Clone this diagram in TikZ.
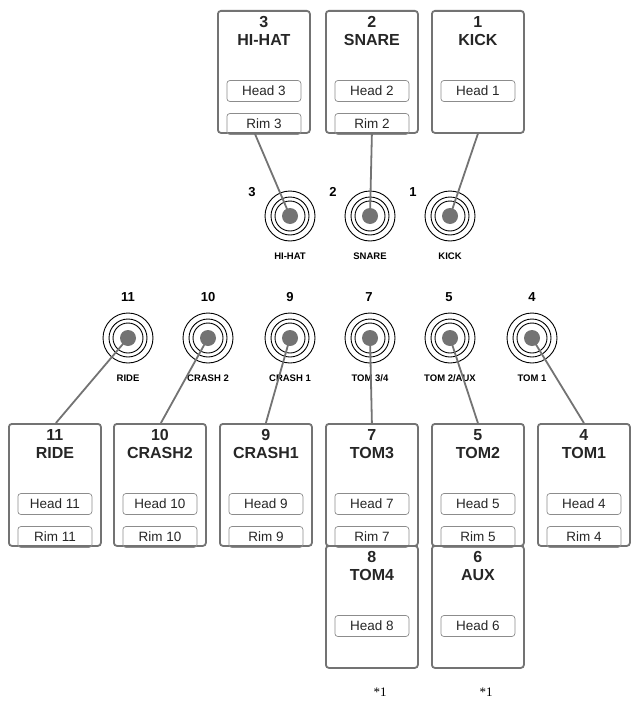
\documentclass[tikz,border=0pt]{standalone}
\usepackage{fontspec}
\setmainfont{Liberation Sans}
\newfontfamily\notefont{Liberation Serif}
\usetikzlibrary{positioning,calc}
\tikzset{
  pad/.style={draw=black!55, line width=1.8pt, rounded corners=3pt, minimum width=92pt, minimum height=122pt, anchor=north west, inner sep=0pt},
  title/.style={font=\fontsize{16}{18}\selectfont\bfseries, align=center, text=black!85},
  zone/.style={draw=black!45, line width=0.7pt, rounded corners=3pt, minimum width=74pt, minimum height=21pt, inner sep=0pt, font=\fontsize{13.5}{15}\selectfont, text=black!85},
  jacknum/.style={font=\fontsize{13}{15}\selectfont\bfseries},
  jacklbl/.style={font=\fontsize{9.5}{11}\selectfont\bfseries},
  wire/.style={draw=black!55, line width=1.8pt},
}
% pad box: name, x, y, title, zone list
\newcommand\padbox[5]{%
  \node[pad] (#1) at (#2,#3) {};
  \node[title, below=3pt of #1.north] (#1t) {#4};
  \foreach \z [count=\i] in {#5}
    \node[zone] (#1z\i) at ($(#1.north)+(0,{81+(\i-1)*33})$) {\z};
}
% jack: name, x, y, label
\newcommand\jack[4]{%
  \foreach \r in {25,19,15} \draw[line width=0.9pt] (#2,#3) circle (\r pt);
  \node[circle, fill=black!55, minimum size=16pt, inner sep=0pt] (#1) at (#2,#3) {};
  \node[jacklbl] (#1l) at (#2,{#3+40}) {#4};
}
\begin{document}
\begin{tikzpicture}[x=1pt, y=-1pt]
  \useasboundingbox (0,0) rectangle (632,709);

  % top row
  \padbox{hihat}{217}{10}{3\\HI-HAT}{Head 3,Rim 3}
  \padbox{snare}{325}{10}{2\\SNARE}{Head 2,Rim 2}
  \padbox{kick}{431}{10}{1\\KICK}{Head 1}

  \jack{jhihat}{290}{216}{HI-HAT}
  \jack{jsnare}{370}{216}{SNARE}
  \jack{jkick}{450}{216}{KICK}
  \node[jacknum] at (252,192) {3};
  \node[jacknum] at (333,192) {2};
  \node[jacknum] at (413,192) {1};

  % middle row jacks
  \jack{jride}{128}{338}{RIDE}
  \jack{jcrash2}{208}{338}{CRASH 2}
  \jack{jcrash1}{290}{338}{CRASH 1}
  \jack{jtomb}{370}{338}{TOM 3/4}
  \jack{jtoma}{450}{338}{TOM 2/AUX}
  \jack{jtom1}{532}{338}{TOM 1}
  \foreach \x/\n in {128/11,208/10,290/9,370/7\,/\,8,450/5\,/\,6,532/4}
    \node[jacknum] at (\x,297) {\n};

  % bottom boxes
  \padbox{ride}{8}{423}{11\\RIDE}{Head 11,Rim 11}
  \padbox{crash2}{113}{423}{10\\CRASH2}{Head 10,Rim 10}
  \padbox{crash1}{219}{423}{9\\CRASH1}{Head 9,Rim 9}
  \padbox{tom3}{325}{423}{7\\TOM3}{Head 7,Rim 7}
  \padbox{tom2}{431}{423}{5\\TOM2}{Head 5,Rim 5}
  \padbox{tom1}{537}{423}{4\\TOM1}{Head 4,Rim 4}
  \padbox{tom4}{325}{545}{8\\TOM4}{Head 8}
  \padbox{aux}{431}{545}{6\\AUX}{Head 6}

  % wires
  \draw[wire] ($(hihat.south)+(-9,0)$) -- (jhihat.center);
  \draw[wire] (snare.south) -- (jsnare.center);
  \draw[wire] (kick.south) -- (jkick.center);
  \draw[wire] ($(ride.north)+(1,0)$) -- (jride.center);
  \draw[wire] ($(crash2.north)+(1,0)$) -- (jcrash2.center);
  \draw[wire] (crash1.north) -- (jcrash1.center);
  \draw[wire] (tom3.north) -- (jtomb.center);
  \draw[wire] (tom2.north) -- (jtoma.center);
  \draw[wire] (tom1.north) -- (jtom1.center);

  \node[font=\notefont\fontsize{13}{15}\selectfont] (note1) at (380,692) {*1};
  \node[font=\notefont\fontsize{13}{15}\selectfont] (note2) at (486,692) {*1};
\end{tikzpicture}
\end{document}
